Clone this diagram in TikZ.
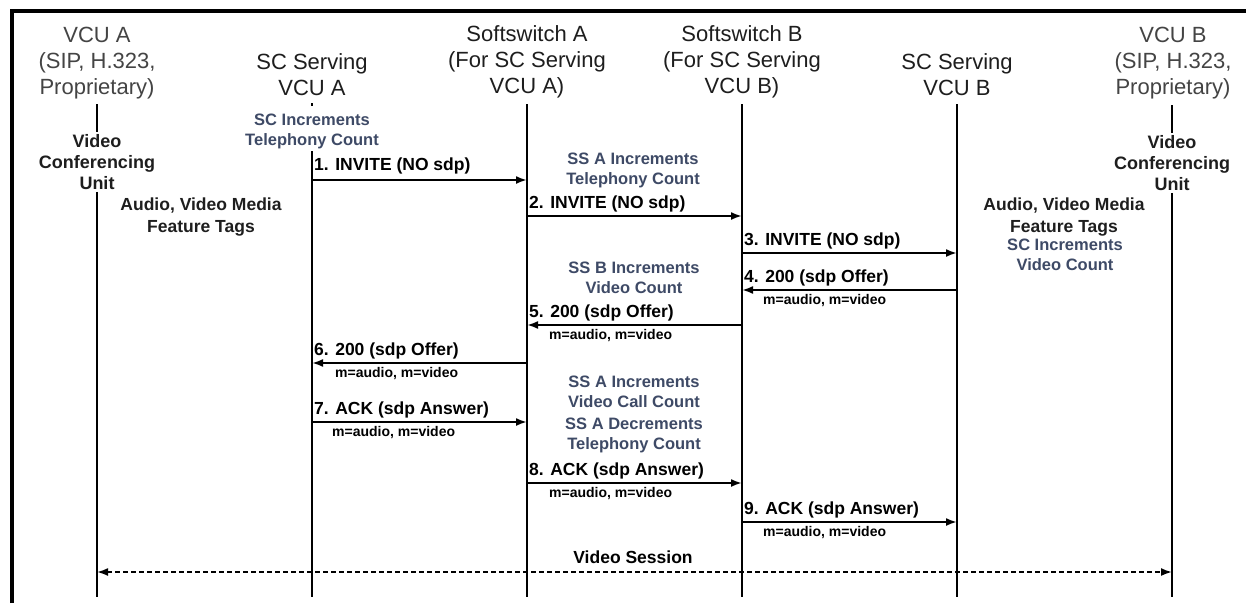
\documentclass[tikz,border=0pt]{standalone}
\usepackage{fontspec}
\setmainfont{Liberation Sans}
\usetikzlibrary{arrows.meta}
\definecolor{hgray}{HTML}{444444}
\definecolor{hdark}{HTML}{1E1E1E}
\definecolor{notec}{HTML}{3E4A66}
\tikzset{
 head/.style={align=center, font=\fontsize{22}{26}\selectfont, inner sep=2pt},
 unitlab/.style={align=center, font=\bfseries\fontsize{18}{21}\selectfont, inner sep=2pt, text=hdark},
 tags/.style={align=center, font=\bfseries\fontsize{17.5}{22}\selectfont, inner sep=2pt, text=hdark},
 notelab/.style={align=center, font=\bfseries\fontsize{16.5}{20}\selectfont, inner sep=2pt, text=notec},
 msglab/.style={anchor=base west, font=\bfseries\fontsize{17.5}{20}\selectfont, inner sep=2pt},
 mlab/.style={anchor=base west, font=\bfseries\fontsize{14}{16}\selectfont, inner sep=0pt},
 life/.style={line width=1.6pt},
 msg/.style={line width=2pt, -{Latex[length=11pt,width=8pt]}},
 sess/.style={line width=1.8pt, dash pattern=on 5pt off 3pt, {Latex[length=11pt,width=8pt]}-{Latex[length=11pt,width=8pt]}},
}
\begin{document}
\begin{tikzpicture}[x=1pt,y=-1pt]
\useasboundingbox (0,0) rectangle (1246,603);
\fill[white] (0,0) rectangle (1246,603);
% frame
\draw[line width=4pt] (12,603) -- (12,11) -- (1246,11);

% lifeline anchors
\coordinate (A) at (97,0);
\coordinate (B) at (312,0);
\coordinate (C) at (527,0);
\coordinate (D) at (742,0);
\coordinate (E) at (957,0);
\coordinate (F) at (1172,0);
\coordinate (Atop) at (97,104);
\coordinate (Btick) at (312,103);
\coordinate (Btick2) at (312,106);
\coordinate (Ctop) at (527,104);
\coordinate (Dtop) at (742,104);
\coordinate (Etop) at (957,104);
\coordinate (Ftop) at (1172,105);
\coordinate (Abot) at (97,597);
\coordinate (Bbot) at (312,597);
\coordinate (Cbot) at (527,597);
\coordinate (Dbot) at (742,597);
\coordinate (Ebot) at (957,597);
\coordinate (Fbot) at (1172,597);

% headers
\node[head,text=hgray] (hA) at (97,63) {VCU A\\(SIP, H.323,\\Proprietary)};
\node[head,text=hdark] (hB) at (312,74.5) {SC Serving\\VCU A};
\node[head,text=hdark] (hC) at (527,62) {Softswitch A\\(For SC Serving\\VCU A)};
\node[head,text=hdark] (hD) at (742,62) {Softswitch B\\(For SC Serving\\VCU B)};
\node[head,text=hdark] (hE) at (957,74.5) {SC Serving\\VCU B};
\node[head,text=hgray] (hF) at (1173,63) {VCU B\\(SIP, H.323,\\Proprietary)};

% endpoint labels
\node[unitlab] (uA) at (97,162) {Video\\Conferencing\\Unit};
\node[unitlab] (uF) at (1172,163) {Video\\Conferencing\\Unit};
\node[tags] (tA) at (201,217) {Audio, Video Media\\Feature Tags};
\node[tags] (tF) at (1064,217) {Audio, Video Media\\Feature Tags};

% notes
\node[notelab] (nB) at (312,131.5) {SC Increments\\Telephony Count};
\node[notelab] (nE) at (1065,255) {SC Increments\\Video Count};
\node[notelab] (n1) at (633,170) {SS A Increments\\Telephony Count};
\node[notelab] (n2) at (634,278) {SS B Increments\\Video Count};
\node[notelab] (n3) at (634,392) {SS A Increments\\Video Call Count};
\node[notelab] (n4) at (634,435) {SS A Decrements\\Telephony Count};

% lifelines
\draw[life] (Atop) -- (uA.north);
\draw[life] (uA.south) -- (Abot);
\draw[life] (Btick) -- (Btick2);
\draw[life] (nB.south) -- (Bbot);
\draw[life] (Ctop) -- (Cbot);
\draw[life] (Dtop) -- (Dbot);
\draw[life] (Etop) -- (Ebot);
\draw[life] (Ftop) -- (uF.north);
\draw[life] (uF.south) -- (Fbot);

% messages
\draw[msg] (B|-0,180) -- (C|-0,180);
\node[msglab] (l1) at (B|-0,170) {1. INVITE (NO sdp)};
\draw[msg] (C|-0,216) -- (D|-0,216);
\node[msglab] (l2) at (C|-0,208) {2. INVITE (NO sdp)};
\draw[msg] (D|-0,253) -- (E|-0,253);
\node[msglab] (l3) at (D|-0,245) {3. INVITE (NO sdp)};
\draw[msg] (E|-0,290) -- (D|-0,290);
\node[msglab] (l4) at (D|-0,282) {4. 200 (sdp Offer)};
\node[mlab] (m4) at ([xshift=21pt]D|-0,304) {m=audio, m=video};
\draw[msg] (D|-0,325) -- (C|-0,325);
\node[msglab] (l5) at (C|-0,317) {5. 200 (sdp Offer)};
\node[mlab] (m5) at ([xshift=22pt]C|-0,339) {m=audio, m=video};
\draw[msg] (C|-0,363) -- (B|-0,363);
\node[msglab] (l6) at (B|-0,355) {6. 200 (sdp Offer)};
\node[mlab] (m6) at ([xshift=23pt]B|-0,377) {m=audio, m=video};
\draw[msg] (B|-0,422) -- (C|-0,422);
\node[msglab] (l7) at (B|-0,414) {7. ACK (sdp Answer)};
\node[mlab] (m7) at ([xshift=20pt]B|-0,436) {m=audio, m=video};
\draw[msg] (C|-0,483) -- (D|-0,483);
\node[msglab] (l8) at (C|-0,475) {8. ACK (sdp Answer)};
\node[mlab] (m8) at ([xshift=22pt]C|-0,497) {m=audio, m=video};
\draw[msg] (D|-0,522) -- (E|-0,522);
\node[msglab] (l9) at (D|-0,514) {9. ACK (sdp Answer)};
\node[mlab] (m9) at ([xshift=21pt]D|-0,536) {m=audio, m=video};

% video session
\draw[sess] (A|-0,572) -- (F|-0,572);
\node[msglab, anchor=base] (vs) at (633,563) {Video Session};
\end{tikzpicture}
\end{document}
